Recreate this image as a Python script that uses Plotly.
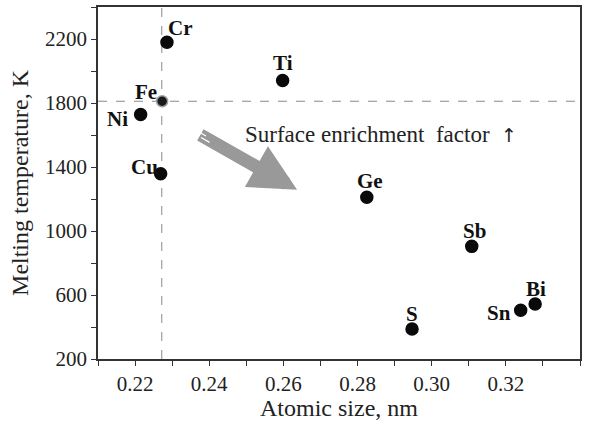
import plotly.graph_objects as go

elements = ["Cr", "Ti", "Fe", "Ni", "Cu", "Ge", "Sb", "S", "Sn", "Bi"]
atomic_size = [0.2286, 0.2598, 0.2273, 0.2215, 0.2269, 0.2825, 0.3108, 0.2947, 0.3240, 0.3279]
melting_temp = [2180, 1941, 1811, 1728, 1358, 1211, 904, 388, 505, 544]
# label pixel offsets (dx, dy) relative to the point
label_dx = [14, 0, -16, -23, -16, 3, 3, 0, -22, 1]
label_dy = [14, 17, 9, -4, 7, 16, 15, 15, -3, 15]

fe_size = 0.2272
fe_temp = 1811

x_ticks = [0.22, 0.24, 0.26, 0.28, 0.30, 0.32, 0.34]
y_ticks = [200, 600, 1000, 1400, 1800, 2200]

FONT = "Liberation Serif"

fig = go.Figure()

# reference dashed lines through Fe
fig.add_shape(type="line", xref="x", yref="paper", x0=fe_size, x1=fe_size, y0=0, y1=1,
              line=dict(color="#8a8a8a", width=1, dash="dash"), layer="below")
fig.add_shape(type="line", xref="paper", yref="y", x0=0, x1=1, y0=fe_temp, y1=fe_temp,
              line=dict(color="#8a8a8a", width=1, dash="dash"), layer="below")

colors = ["#0a0a0a" if e != "Fe" else "#1a1a1a" for e in elements]
line_cols = ["#0a0a0a" if e != "Fe" else "#a0a0a0" for e in elements]
sizes = [12 if e != "Fe" else 11 for e in elements]

fig.add_trace(go.Scatter(
    x=atomic_size, y=melting_temp, mode="markers",
    marker=dict(color=colors, size=sizes, opacity=1,
                line=dict(color=line_cols, width=1.5)),
    showlegend=False, hoverinfo="skip"))

for e, xv, yv, dx, dy in zip(elements, atomic_size, melting_temp, label_dx, label_dy):
    fig.add_annotation(x=xv, y=yv, text="<b>%s</b>" % e, showarrow=False,
                       xshift=dx, yshift=dy, font=dict(family=FONT, size=21, color="#111111"))

# big gray arrow
arrow_tail = (0.2372, 1606)
arrow_tip = (0.2637, 1258)
fig.add_annotation(x=arrow_tip[0], y=arrow_tip[1], ax=arrow_tail[0], ay=arrow_tail[1],
                   xref="x", yref="y", axref="x", ayref="y", text="", showarrow=True,
                   arrowhead=2, arrowsize=0.72, arrowwidth=13, arrowcolor="#999999",
                   standoff=0, startstandoff=0)
# stripes at the tail
for sx, sy in [(-1.8, 3.2), (1.8, -3.2)]:
    fig.add_annotation(x=0.2372 + 0.0024, y=1606 - 32, ax=arrow_tail[0] - 0.0003, ay=arrow_tail[1] + 4,
                       xref="x", yref="y", axref="x", ayref="y", text="", showarrow=True,
                       arrowhead=0, arrowwidth=1.2, arrowcolor="white",
                       xshift=sx, yshift=sy)

fig.add_annotation(x=0.2491, y=1606, xref="x", yref="y", xanchor="left", yanchor="middle",
                   text="Surface enrichment  factor  <span style='font-family:DejaVu Sans;font-size:19px'>\u2191</span>",
                   showarrow=False,
                   font=dict(family=FONT, size=23, color="#222222"))

axis_common = dict(showgrid=False, zeroline=False, showline=True, linecolor="#333333",
                   linewidth=1.6, mirror=True, ticks="outside", ticklen=5, tickwidth=1.3,
                   tickcolor="#333333", tickfont=dict(family=FONT, size=21, color="#222222"))

fig.update_xaxes(range=[0.21, 0.34], tickvals=x_ticks,
                 ticktext=["%.2f" % v for v in x_ticks],
                 minor=dict(dtick=0.01, tick0=0.21, ticks="outside", ticklen=5,
                            tickwidth=1.3, tickcolor="#333333"),
                 title=dict(text="Atomic size, nm", font=dict(family=FONT, size=24, color="#222222"),
                            standoff=3),
                 **axis_common)
fig.update_yaxes(range=[200, 2400], tickvals=y_ticks,
                 minor=dict(dtick=200, tick0=200, ticks="outside", ticklen=5,
                            tickwidth=1.3, tickcolor="#333333"),
                 title=dict(text="Melting temperature, K", font=dict(family=FONT, size=24, color="#222222"),
                            standoff=10),
                 **axis_common)

fig.update_layout(width=597, height=421, margin=dict(l=98, r=17, t=5, b=62),
                  plot_bgcolor="white", paper_bgcolor="white")

fig.write_html("out.html")
